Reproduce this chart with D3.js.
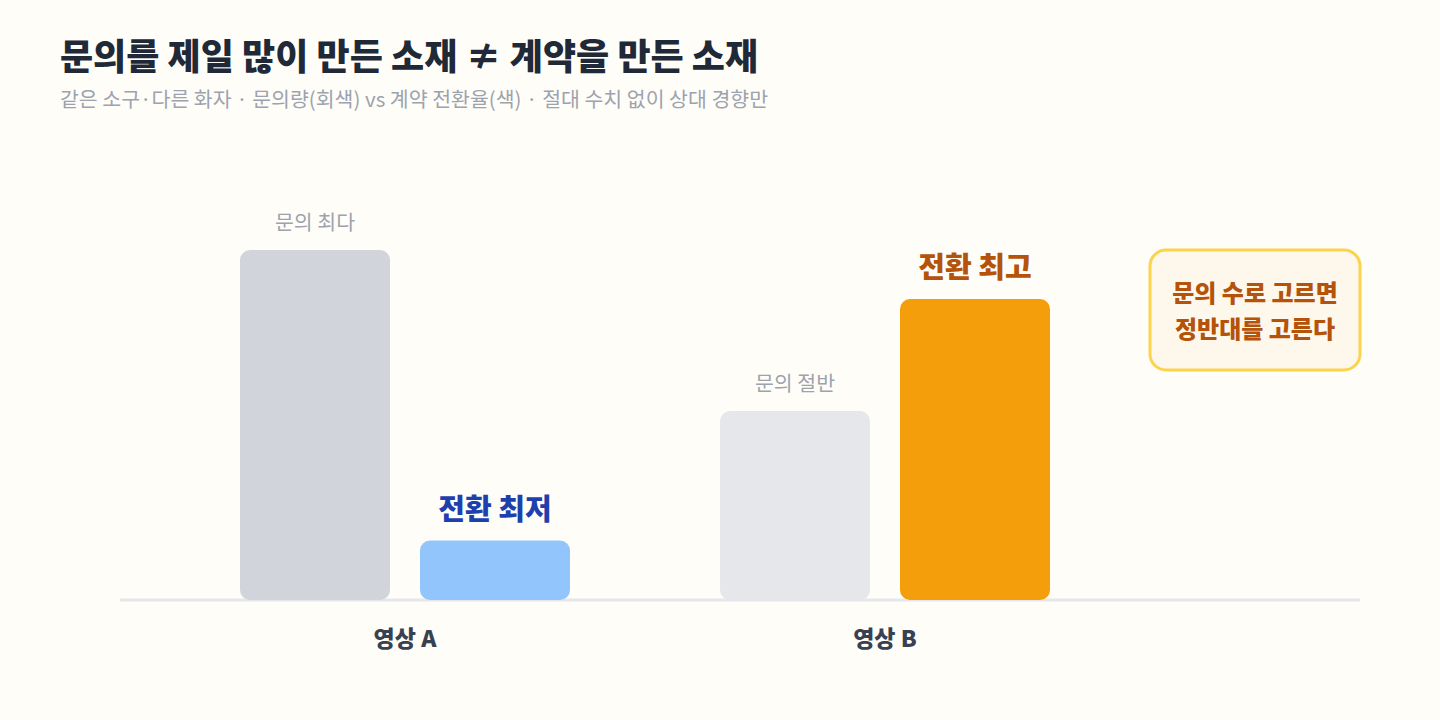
<!DOCTYPE html>
<html>
<head>
<meta charset="utf-8">
<script src="https://cdn.jsdelivr.net/npm/d3@7"></script>
<style>
  html, body { margin: 0; padding: 0; background: #fffdf7; }
  svg { display: block; font-family: "Noto Sans CJK KR", "Noto Sans", sans-serif; }
</style>
</head>
<body>
<svg></svg>
<script>
// data
const categories = ['영상 A', '영상 B']
const series = ['inquiry', 'conversion']
const inquiry = [100, 54]
const conversion = [17, 86]
const inquiryLabels = ['문의 최다', '문의 절반']
const conversionLabels = ['전환 최저', '전환 최고']
const calloutLines = ['문의 수로 고르면', '정반대를 고른다']

const W = 1440, H = 720
const svg = d3.select('svg')
    .attr('width', W)
    .attr('height', H)

svg.append('rect')
    .attr('width', W)
    .attr('height', H)
    .attr('fill', '#fffdf7')

// title
svg.append('text')
    .attr('x', 60)
    .attr('y', 70)
    .attr('font-size', 36)
    .attr('font-weight', 800)
    .attr('fill', '#1f2937')
    .text('문의를 제일 많이 만든 소재 ≠ 계약을 만든 소재')

svg.append('text')
    .attr('x', 60)
    .attr('y', 107)
    .attr('font-size', 20.5)
    .attr('fill', '#9ca3af')
    .text('같은 소구·다른 화자 · 문의량(회색) vs 계약 전환율(색) · 절대 수치 없이 상대 경향만')

// scales
const x = d3.scaleBand()
    .domain(categories)
    .range([240, 1050])
    .paddingInner(0.3125)
    .paddingOuter(0)

const xSub = d3.scaleBand()
    .domain(series)
    .range([0, x.bandwidth()])
    .paddingInner(1 / 6)

const y = d3.scaleLinear()
    .domain([0, 100])
    .range([600, 250])

// baseline
svg.append('line')
    .attr('x1', 120)
    .attr('x2', 1360)
    .attr('y1', y(0))
    .attr('y2', y(0))
    .attr('stroke', '#e5e7eb')
    .attr('stroke-width', 3)

const rows = categories.map((c, i) => ({
    cat: c,
    values: [
        { key: 'inquiry', v: inquiry[i], label: inquiryLabels[i], fill: ['#d1d5db', '#e5e7eb'][i],
          lc: '#9ca3af', fs: 20.5, fw: 400, gap: 20 },
        { key: 'conversion', v: conversion[i], label: conversionLabels[i], fill: ['#93c5fd', '#f59e0b'][i],
          lc: ['#1e40af', '#b45309'][i], fs: 29, fw: 800, gap: 21 }
    ]
}))

const groups = svg.selectAll('g.grp')
    .data(rows)
    .join('g')
    .attr('class', 'grp')
    .attr('transform', d => `translate(${x(d.cat)},0)`)

groups.selectAll('rect')
    .data(d => d.values)
    .join('rect')
    .attr('x', d => xSub(d.key))
    .attr('y', d => y(d.v))
    .attr('width', xSub.bandwidth())
    .attr('height', d => y(0) - y(d.v))
    .attr('rx', 10)
    .attr('fill', d => d.fill)

groups.selectAll('text.lbl')
    .data(d => d.values)
    .join('text')
    .attr('class', 'lbl')
    .attr('x', d => xSub(d.key) + xSub.bandwidth() / 2)
    .attr('y', d => y(d.v) - d.gap)
    .attr('text-anchor', 'middle')
    .attr('font-size', d => d.fs)
    .attr('font-weight', d => d.fw)
    .attr('fill', d => d.lc)
    .text(d => d.label)

// category axis labels
svg.selectAll('text.cat')
    .data(categories)
    .join('text')
    .attr('class', 'cat')
    .attr('x', d => x(d) + x.bandwidth() / 2)
    .attr('y', 647)
    .attr('text-anchor', 'middle')
    .attr('font-size', 23)
    .attr('font-weight', 800)
    .attr('fill', '#374151')
    .text(d => d)

// callout
const callout = svg.append('g')
    .attr('transform', 'translate(1150,250)')

callout.append('rect')
    .attr('width', 210)
    .attr('height', 120)
    .attr('rx', 16)
    .attr('fill', '#fdf7ec')
    .attr('stroke', '#fcd34d')
    .attr('stroke-width', 3)

callout.selectAll('text')
    .data(calloutLines)
    .join('text')
    .attr('x', 105)
    .attr('y', (d, i) => 52 + i * 36)
    .attr('text-anchor', 'middle')
    .attr('font-size', 24)
    .attr('font-weight', 800)
    .attr('fill', '#b45309')
    .text(d => d)
</script>
</body>
</html>
